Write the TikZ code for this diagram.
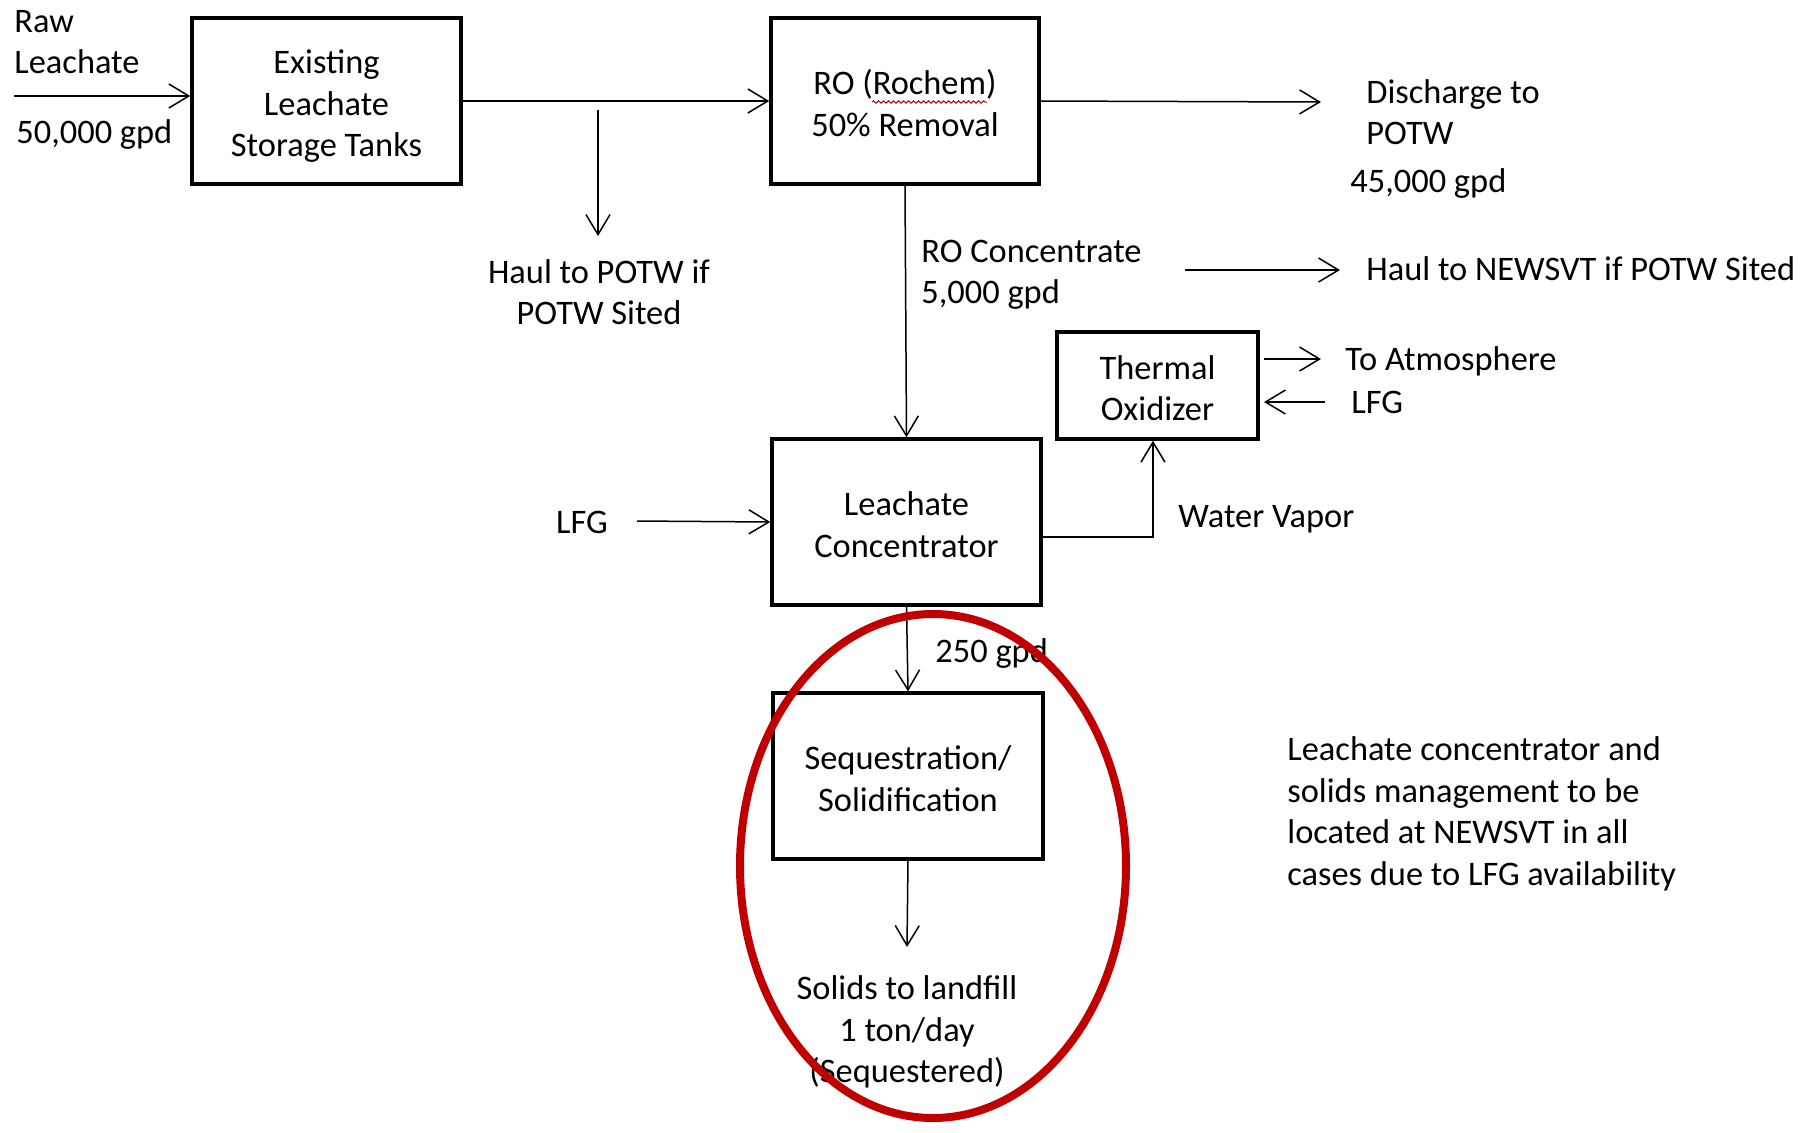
\documentclass[tikz,border=0pt]{standalone}
\usepackage{fontspec}
\setmainfont{Carlito}
\usetikzlibrary{arrows.meta,decorations.pathmorphing}
\newcommand\dfont{\fontsize{17.2pt}{20.75pt}\selectfont}
\newcommand\boxtxt[1]{\raisebox{-3pt}[\height][\depth]{\begin{tabular}{@{}c@{}}#1\end{tabular}}}
\definecolor{circred}{HTML}{C00000}
\begin{document}
\begin{tikzpicture}[x=0.5pt,y=-0.5pt,
  every node/.style={font=\dfont},
  box/.style={draw,line width=1.7pt,align=center,inner sep=0pt},
  lbl/.style={inner sep=0pt,align=left},
  clbl/.style={inner sep=0pt,align=center},
  arr/.style={line width=0.75pt,-{Straight Barb[length=10pt,width=12pt,line width=0.75pt]}},
  ring/.style={draw=circred,line width=4pt}
]
\useasboundingbox (0,0) rectangle (1806,1132);

% boxes
\node[box,minimum width=134.5pt,minimum height=83pt] (tanks) at (326.5,101) {\boxtxt{Existing\\Leachate\\Storage Tanks}};
\node[box,minimum width=134pt,minimum height=83pt] (ro) at (905,101) {\boxtxt{RO (Rochem)\\50\% Removal}};
\node[box,minimum width=100.5pt,minimum height=53.5pt] (tox) at (1157.5,385.5) {\boxtxt{Thermal\\Oxidizer}};
\node[box,minimum width=134.5pt,minimum height=83pt] (lc) at (906.5,522) {\boxtxt{Leachate\\Concentrator}};
\node[box,minimum width=135pt,minimum height=83pt] (seq) at (908,776) {\boxtxt{Sequestration/\\Solidification}};

% labels
\node[lbl,anchor=west] (raw) at (14,42) {Raw\\Leachate};
\node[lbl,anchor=west] (rawq) at (16,135) {50,000 gpd};
\node[clbl] (haul1) at (599,292) {Haul to POTW if\\POTW Sited};
\node[lbl,anchor=west] (disch) at (1366,112) {Discharge to\\POTW};
\node[lbl,anchor=west] (dischq) at (1350,184) {45,000 gpd};
\node[lbl,anchor=west] (roc) at (921,275) {RO Concentrate\\5,000 gpd};
\node[lbl,anchor=west] (haul2) at (1366,269) {Haul to NEWSVT if POTW Sited};
\node[lbl,anchor=west] (atm) at (1345,361) {To Atmosphere};
\node[lbl,anchor=west] (lfg2) at (1351,402) {LFG};
\node[clbl] (lfg1) at (582,522) {LFG};
\node[lbl,anchor=west] (wv) at (1178,519) {Water Vapor};
\node[lbl,anchor=west] (q250) at (935,653) {250 gpd};
\node[clbl] (solids) at (907,1032) {Solids to landfill\\1 ton/day\\(Sequestered)};
\node[lbl,anchor=west] (note) at (1287,814) {Leachate concentrator and\\solids management to be\\located at NEWSVT in all\\cases due to LFG availability};

% spell-check underline
\draw[circred,line width=0.5pt,decorate,decoration={snake,amplitude=0.6pt,segment length=2.5pt}] (872,102) -- (987,102);

% connector end points
\coordinate (rawstart) at (14,96);
\coordinate (brtop) at (598,110);
\coordinate (brend) at (598,236);
\coordinate (dischend) at (1321,102);
\coordinate (h2start) at (1185,270);
\coordinate (h2end) at (1340,270);
\coordinate (atmstart) at (1264,359);
\coordinate (atmend) at (1321,359);
\coordinate (lfg2start) at (1325,402);
\coordinate (lfg2end) at (1264,402);
\coordinate (lfg1start) at (637,521);
\coordinate (wvpt) at (1153,537);
\coordinate (solidsend) at (907,947);

% connectors
\draw[arr] (rawstart) -- (rawstart -| tanks.west);
\draw[arr] (tanks.east) -- (ro.west);
\draw[arr] (brtop) -- (brend);
\draw[arr] (ro.east) -- (dischend);
\draw[arr] (ro.south) -- (lc.north);
\draw[arr] (h2start) -- (h2end);
\draw[arr] (atmstart) -- (atmend);
\draw[arr] (lfg2start) -- (lfg2end);
\draw[arr] (lfg1start) -- (lc.west);
\draw[arr] (lc.east |- wvpt) -| (tox.south -| wvpt);
\draw[arr] (lc.south) -- (seq.north);
\draw[arr] (seq.south) -- (solidsend);

% red ring
\draw[ring] (933,866) ellipse [x radius=96.5pt, y radius=126pt];
\end{tikzpicture}
\end{document}
